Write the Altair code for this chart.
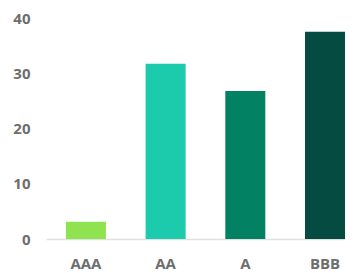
import altair as alt
import pandas as pd

categories = ["AAA", "AA", "A", "BBB"]
values = [3.1, 31.7, 26.8, 37.5]
colors = ["#8fe350", "#1ccbab", "#028163", "#064b41"]

df = pd.DataFrame({"cat": categories, "val": values})

chart = alt.Chart(df).mark_bar().encode(
    x=alt.X("cat:N", sort=categories, title=None,
            scale=alt.Scale(paddingInner=0.498, paddingOuter=0.125, align=1),
            axis=alt.Axis(labelAngle=0, labelFont="Open Sans", labelFontWeight="bold",
                          labelFontSize=15, labelColor="#6e6e6e", labelPadding=17,
                          ticks=False, domainColor="#e0e0e0", domainWidth=1.5, grid=False)),
    y=alt.Y("val:Q", title=None,
            scale=alt.Scale(domain=[0, 40], nice=False),
            axis=alt.Axis(values=[0, 10, 20, 30, 40], labelFont="Open Sans", labelFontWeight="bold",
                          labelFontSize=15, labelColor="#6e6e6e", labelPadding=16,
                          ticks=False, domain=False, grid=False)),
    color=alt.Color("cat:N", sort=categories, scale=alt.Scale(domain=categories, range=colors), legend=None),
).properties(
    width=299, height=221,
    autosize=alt.AutoSizeParams(type="none"),
    padding={"left": 38, "top": 10, "right": 0, "bottom": 34},
).configure_view(stroke=None)

chart.save("out.html", embed_options={"renderer": "svg", "actions": False})
